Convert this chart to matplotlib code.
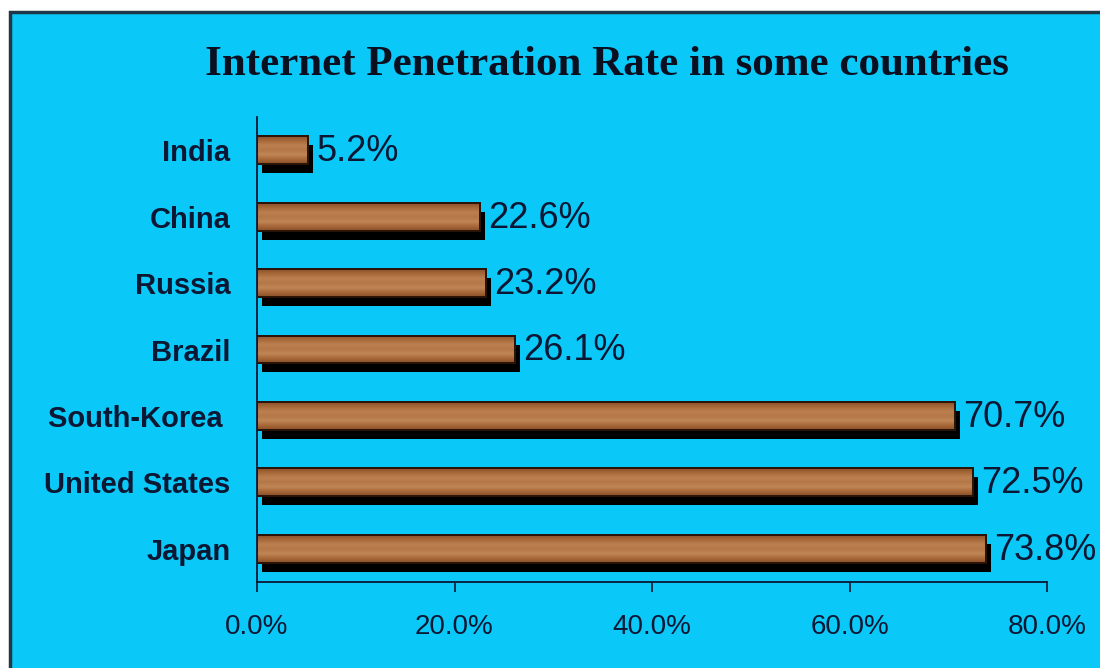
import numpy as np
import matplotlib
matplotlib.use("Agg")
from matplotlib import pyplot as plt
from matplotlib import transforms
from matplotlib.patches import Rectangle
from matplotlib.colors import LinearSegmentedColormap

# data
countries = ["India", "China", "Russia", "Brazil", "South-Korea ", "United States", "Japan"]
rates = [5.2, 22.6, 23.2, 26.1, 70.7, 72.5, 73.8]
value_labels = ["5.2%", "22.6%", "23.2%", "26.1%", "70.7%", "72.5%", "73.8%"]
xticks = [0, 20, 40, 60, 80]
xtick_labels = ["0.0%", "20.0%", "40.0%", "60.0%", "80.0%"]

cyan = "#0AC8F8"
navy = "#0C1733"

fig = plt.figure(figsize=(11, 6.68), dpi=100)
fig.patch.set_facecolor("white")

# cyan panel with dark border
panel = Rectangle((10 / 1100, -0.05), 1.1, 1 - 12 / 668 + 0.05, transform=fig.transFigure,
                  facecolor=cyan, edgecolor="#203848", linewidth=2.5, zorder=-5)
fig.patches.append(panel)

ax = fig.add_axes([257 / 1100, 1 - 582 / 668, (1047 - 257) / 1100, (582 - 117) / 668])
ax.set_facecolor("none")

y = np.arange(len(countries))
h = 0.42

# shadow bars, shifted a few pixels right and down
shadow_tr = transforms.offset_copy(ax.transData, fig=fig, x=5, y=-9, units="dots")
ax.barh(y, rates, height=h, color="black", transform=shadow_tr, zorder=2)

# wood-like faces
wood = LinearSegmentedColormap.from_list("wood", ["#8A5028", "#A86A3A", "#BC8050", "#B47848", "#C08656", "#A8683A", "#8A5028"])
grad = np.linspace(0, 1, 64).reshape(-1, 1)
bars = ax.barh(y, rates, height=h, color="#B07444", edgecolor="#2A1408", linewidth=1.2, zorder=3)
for b in bars:
    x0, y0 = b.get_x(), b.get_y()
    im = ax.imshow(grad, cmap=wood, aspect="auto", extent=(x0, x0 + b.get_width(), y0 + b.get_height(), y0),
                   zorder=3.5, interpolation="bicubic")
    im.set_clip_path(b)
    ax.add_patch(Rectangle((x0, y0), b.get_width(), b.get_height(), fill=False,
                           edgecolor="#2A1408", linewidth=1.4, zorder=4))

for yi, v, lab in zip(y, rates, value_labels):
    ax.annotate(lab, (v, yi), xytext=(6, -1), textcoords="offset points", va="center", ha="left",
                fontsize=26, color=navy, family="Liberation Sans", zorder=5)

ax.set_ylim(len(countries) - 0.5, -0.5)
ax.set_xlim(0, 80)
ax.set_yticks(y)
ax.set_yticklabels(countries, fontsize=21, fontweight="bold", color=navy, family="Liberation Sans")
ax.set_xticks(xticks)
ax.set_xticklabels(xtick_labels, fontsize=20, color=navy, family="Liberation Sans")
ax.tick_params(axis="y", length=0, pad=19)
ax.tick_params(axis="x", direction="out", length=7, width=1.2, color=navy, pad=16)
for s in ["top", "right"]:
    ax.spines[s].set_visible(False)
for s in ["left", "bottom"]:
    ax.spines[s].set_color(navy)
    ax.spines[s].set_linewidth(1.3)

fig.text(607 / 1100, 1 - 65 / 668, "Internet Penetration Rate in some countries", ha="center", va="center",
         fontsize=31, fontweight="bold", family="Liberation Serif", color="#0A1020")

fig.savefig("out.png", dpi=100, facecolor=fig.get_facecolor())
